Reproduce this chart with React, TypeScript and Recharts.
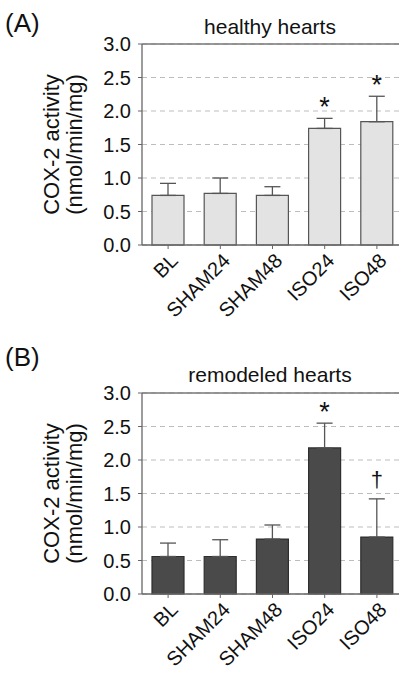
import { Bar, CartesianGrid, ComposedChart, ErrorBar, LabelList, ReferenceLine, XAxis, YAxis } from "recharts";

const categories = ["BL", "SHAM24", "SHAM48", "ISO24", "ISO48"];
const yTicks = [0, 0.5, 1, 1.5, 2, 2.5, 3];

const healthyMean = [0.74, 0.77, 0.74, 1.74, 1.84];
const healthyErr = [0.18, 0.23, 0.13, 0.15, 0.38];
const healthyMark = ["", "", "", "*", "*"];

const remodeledMean = [0.56, 0.56, 0.82, 2.18, 0.85];
const remodeledErr = [0.2, 0.25, 0.21, 0.37, 0.57];
const remodeledMark = ["", "", "", "*", "†"];

const font = "'Liberation Sans', Arial, sans-serif";

function buildRows(mean: number[], err: number[], mark: string[]) {
  return categories.map((name, i) => ({
    name,
    mean: mean[i],
    errRange: [0, err[i]],
    tag: mark[i] + "|" + err[i],
  }));
}

function XTick(props: any) {
  const { x, y, payload } = props;
  return (
    <text
      transform={`translate(${x + 11},${y + 11}) rotate(-45)`}
      textAnchor="end"
      fontSize={20}
      fontFamily={font}
      fill="#111"
    >
      {payload.value}
    </text>
  );
}

function YLabel(props: any) {
  const vb = props.viewBox || { x: 0, y: 0, width: 0, height: 0 };
  const cy = vb.y + vb.height / 2;
  const lines = [
    { x: vb.x + 51, t: "COX-2 activity" },
    { x: vb.x + 74, t: "(nmol/min/mg)" },
  ];
  return (
    <g>
      {lines.map((l) => (
        <text
          key={l.t}
          x={l.x}
          y={cy}
          transform={`rotate(-90 ${l.x} ${cy})`}
          textAnchor="middle"
          dominantBaseline="central"
          fontSize={22}
          fontFamily={font}
          fill="#111"
        >
          {l.t}
        </text>
      ))}
    </g>
  );
}

function MarkLabel(props: any) {
  const vb = props.viewBox || props;
  const [mark, errStr] = String(props.value || "|0").split("|");
  if (!mark) return null;
  const x = vb.x + vb.width / 2;
  // pixels per unit, taken from the bar itself
  const ppu = props.meanValue ? vb.height / props.meanValue : 0;
  const capY = vb.y - Number(errStr) * ppu;
  const lift = mark === "†" ? 12 : 2;
  return (
    <text x={x} y={capY - lift} textAnchor="middle" fontSize={mark === "†" ? 22 : 27} fontFamily={font} fill="#111">
      {mark}
    </text>
  );
}

function Panel({
  rows,
  fill,
  stroke,
  topMargin,
  height,
  xAxisHeight,
}: {
  rows: ReturnType<typeof buildRows>;
  fill: string;
  stroke: string;
  topMargin: number;
  height: number;
  xAxisHeight: number;
}) {
  return (
    <ComposedChart width={404} height={height} data={rows} margin={{ top: topMargin, right: 1, left: 0, bottom: 0 }}>
      <CartesianGrid vertical={false} stroke="#bdbdbd" strokeDasharray="5 4" />
      <XAxis
        dataKey="name"
        height={xAxisHeight}
        interval={0}
        tick={<XTick />}
        tickSize={4}
        axisLine={{ stroke: "#666", strokeWidth: 1.3 }}
        tickLine={{ stroke: "#666" }}
      />
      <YAxis
        width={142}
        domain={[0, 3]}
        ticks={yTicks}
        tickFormatter={(v: number) => v.toFixed(1)}
        tick={{ fontSize: 20, fill: "#111", fontFamily: font }}
        tickSize={4}
        tickMargin={7}
        axisLine={{ stroke: "#666", strokeWidth: 1.3 }}
        tickLine={{ stroke: "#666" }}
        label={{ content: <YLabel /> }}
      />
      <ReferenceLine y={3} stroke="#777" strokeWidth={1.3} />
      <Bar dataKey="mean" fill={fill} stroke={stroke} strokeWidth={1.2} barSize={32} isAnimationActive={false}>
        <ErrorBar dataKey="errRange" width={8} stroke="#555" strokeWidth={1.3} direction="y" />
        <LabelList
          dataKey="tag"
          content={(p: any) => <MarkLabel {...p} meanValue={rows[p.index]?.mean} />}
        />
      </Bar>
    </ComposedChart>
  );
}

const textStyle = { position: "absolute" as const, fontFamily: font, color: "#111", whiteSpace: "nowrap" as const };

export default function App() {
  const healthyRows = buildRows(healthyMean, healthyErr, healthyMark);
  const remodeledRows = buildRows(remodeledMean, remodeledErr, remodeledMark);
  return (
    <div style={{ position: "absolute", left: 0, top: 0, width: 399, height: 673, overflow: "hidden", background: "#fff" }}>
      <div style={{ position: "absolute", left: 0, top: 0 }}>
        <Panel rows={healthyRows} fill="#e3e3e3" stroke="#555" topMargin={44} height={340} xAxisHeight={95} />
      </div>
      <div style={{ position: "absolute", left: 0, top: 340 }}>
        <Panel rows={remodeledRows} fill="#4a4a4a" stroke="#2e2e2e" topMargin={53} height={333} xAxisHeight={79} />
      </div>
      <div style={{ ...textStyle, left: 5, top: 10, fontSize: 26, lineHeight: "26px" }}>(A)</div>
      <div style={{ ...textStyle, left: 5, top: 344, fontSize: 26, lineHeight: "26px" }}>(B)</div>
      <div style={{ ...textStyle, left: 170, width: 200, textAlign: "center", top: 16, fontSize: 21, lineHeight: "21px" }}>
        healthy hearts
      </div>
      <div style={{ ...textStyle, left: 170, width: 200, textAlign: "center", top: 364, fontSize: 21, lineHeight: "21px" }}>
        remodeled hearts
      </div>
    </div>
  );
}
